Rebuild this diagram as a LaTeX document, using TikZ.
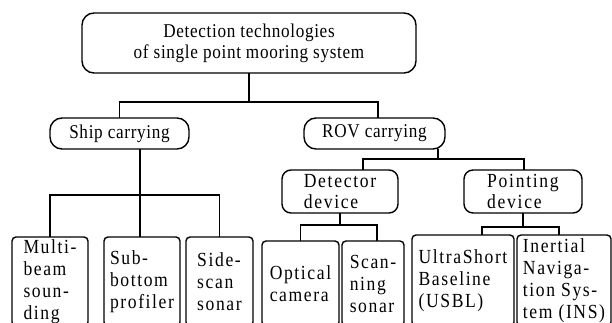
\documentclass[tikz,border=0pt]{standalone}
\usepackage{fontspec}
\setmainfont{Liberation Serif}
\newfontfamily\topfont[FakeStretch=0.88,LetterSpace=3.5]{Liberation Serif}
\newfontfamily\devfont[FakeStretch=0.88,LetterSpace=8.5]{Liberation Serif}
\newfontfamily\leaffont[FakeStretch=0.88,LetterSpace=8]{Liberation Serif}
\begin{document}
\begin{tikzpicture}[x=1pt,y=-1pt,
  every node/.style={inner sep=0pt,outer sep=0pt},
  conn/.style={line width=1.5pt},
  topbox/.style={draw,line width=1.4pt,rounded corners=12pt,align=center,font=\topfont\fontsize{19.5}{21}\selectfont},
  midbox/.style={draw,line width=1.4pt,rounded corners=12pt,align=center,font=\topfont\fontsize{19.5}{21}\selectfont},
  devbox/.style={draw,line width=1.4pt,rounded corners=9pt,align=left,font=\devfont\fontsize{20}{21}\selectfont},
  leafbox/.style={draw,line width=1.4pt,rounded corners=4pt,align=left,font=\leaffont\fontsize{20}{22}\selectfont},
]
\useasboundingbox (0,0) rectangle (612,323);
\clip (0,0) rectangle (612,323);

\node[topbox,minimum width=334pt,minimum height=60pt] (top) at (249,43)
  {Detection technologies\\of single point mooring system};
\node[midbox,minimum width=139pt,minimum height=31pt] (ship) at (119.5,133.5) {Ship carrying};
\node[midbox,minimum width=141pt,minimum height=31pt] (rov) at (374.5,133.5) {ROV carrying};
\node[devbox,minimum width=116pt,minimum height=43pt] (det) at (340,191.5) {Detector\\device};
\node[devbox,minimum width=118pt,minimum height=43pt] (point) at (523,191.5) {Pointing\\device};

\node[leafbox,minimum width=76pt,minimum height=89pt] (multi) at (50,281.5) {Multi-\\beam\\soun-\\ding};
\node[leafbox,minimum width=76pt,minimum height=89pt] (sub) at (142,281.5) {Sub-\\bottom\\profiler};
\node[leafbox,minimum width=67pt,minimum height=89pt] (side) at (219.5,281.5) {Side-\\scan\\sonar};
\node[leafbox,minimum width=77pt,minimum height=85pt] (opt) at (300.5,283.5) {Optical\\camera};
\node[leafbox,minimum width=62pt,minimum height=85pt] (scan) at (373,283.5) {Scan-\\ning\\sonar};
\node[leafbox,minimum width=102pt,minimum height=91pt] (usbl) at (463,280.5) {UltraShort\\Baseline\\(USBL)};
\node[leafbox,minimum width=94pt,minimum height=91pt] (ins) at (564,280.5) {Inertial\\Naviga-\\tion Sys-\\tem (INS)};

% connectors
\coordinate (j1) at (249,102);
\draw[conn] (top.south) -- (j1);
\draw[conn] (ship.north) |- (j1) -| ([xshift=3.5pt]rov.north);

\coordinate (j2) at (140,195);
\draw[conn] (ship.south -| j2) -- (j2);
\draw[conn] (multi.north) |- (j2) -| (side.north);
\draw[conn] (j2) -- (sub.north -| j2);

\coordinate (j3) at (438,159);
\draw[conn] (rov.south -| j3) -- (j3);
\draw[conn] ([xshift=23pt]det.north) |- (j3) -| ([xshift=1pt]point.north);

\coordinate (j4) at (340,225);
\draw[conn] (det.south) -- (j4);
\draw[conn] (opt.north) |- (j4) -| ([xshift=4pt]scan.north);

\coordinate (j5) at (523,227);
\draw[conn] (point.south) -- (j5);
\draw[conn] ([xshift=19pt]usbl.north) |- (j5) -| ([xshift=-5pt]ins.north);
\end{tikzpicture}
\end{document}
